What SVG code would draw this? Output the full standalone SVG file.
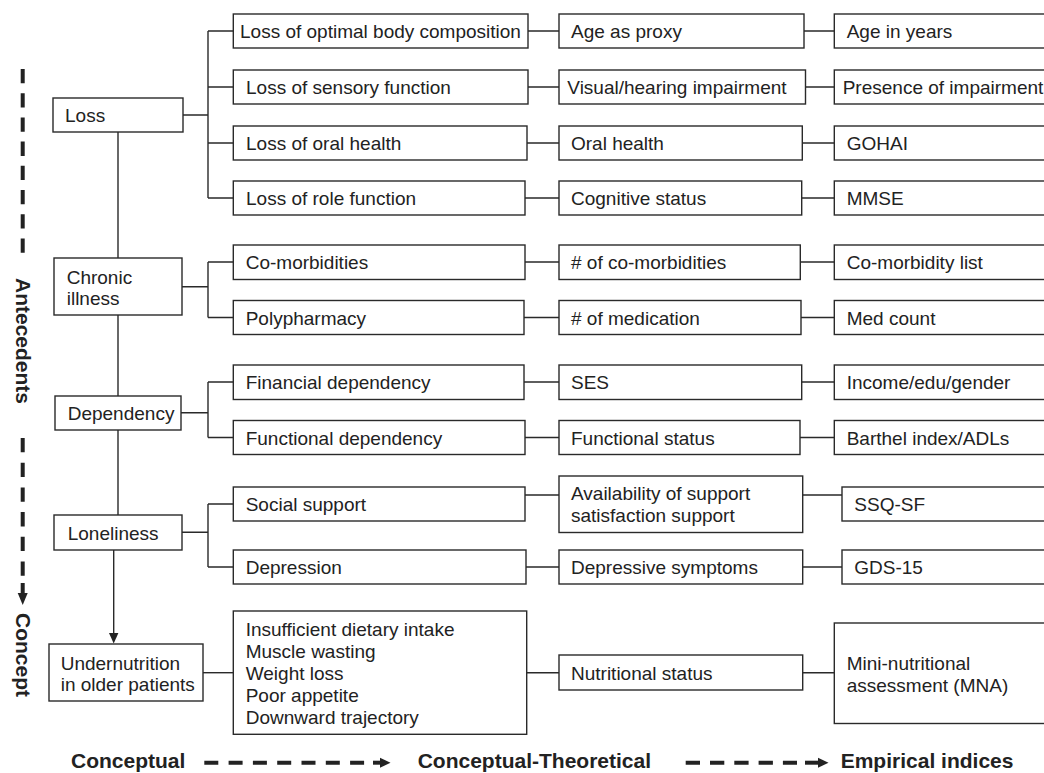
<svg xmlns="http://www.w3.org/2000/svg" width="1044" height="773" viewBox="0 0 1044 773">
<style>
.b{fill:#fff;stroke:#2a2a2a;stroke-width:1.4}
.t{font-family:"Liberation Sans",Arial,sans-serif;font-size:19px;fill:#222}
.bt{font-family:"Liberation Sans",Arial,sans-serif;font-size:21px;font-weight:bold;fill:#222}
.c{stroke:#2a2a2a;stroke-width:1.4;fill:none}
.d{stroke:#222;stroke-width:4;fill:none}
</style>
<defs>
<marker id="ah" markerWidth="10" markerHeight="10" refX="9" refY="5" orient="auto" markerUnits="userSpaceOnUse"><path d="M0,0 L10,5 L0,10 Z" fill="#222"/></marker>
</defs>
<rect width="1044" height="773" fill="#fff"/>

<g id="connectors">
<!-- trunk -->
<path class="c" d="M118,132 V258 M118,315 V396 M118,430 V515"/>
<path class="c" d="M113.7,550 V634"/>
<path d="M109,633 L118.4,633 L113.7,643.5 Z" fill="#222"/>
<!-- Loss bracket -->
<path class="c" d="M183,115 H208 M208,31 V198 M208,31 H233 M208,87 H233 M208,143 H233 M208,198 H233"/>
<!-- Chronic -->
<path class="c" d="M182,286.7 H208 M208,262 V317.5 M208,262 H233 M208,317.5 H233"/>
<!-- Dependency -->
<path class="c" d="M181,412.7 H208 M208,382 V437.5 M208,382 H233 M208,437.5 H233"/>
<!-- Loneliness -->
<path class="c" d="M182,532.3 H208 M208,504 V567 M208,504 H233 M208,567 H233"/>
<!-- Undernutrition -->
<path class="c" d="M203,672.7 H233"/>
<!-- col2 to col3 -->
<path class="c" d="M528,31 H559 M528,87 H559 M527,143 H559 M525,198 H559 M525,262 H559 M524,317.5 H559 M524,382 H559 M525,437.5 H559 M525,495 H559 M526,567 H559 M527,672.7 H559"/>
<!-- col3 to col4 -->
<path class="c" d="M804,31 H834 M805.5,87 H834 M802.3,143 H834 M801.7,198 H834 M800.3,262 H834 M801,317.5 H834 M801.7,382 H834 M800,437.5 H834 M802.7,495 H842 M802.7,567 H842 M802.7,672.7 H834"/>
</g>

<g id="axis-left">
<line class="d" x1="22.7" y1="69" x2="22.7" y2="252.7" stroke-dasharray="14.3 9.9"/>
<line class="d" x1="22.7" y1="438" x2="22.7" y2="576" stroke-dasharray="14.3 10.4"/>
<line class="d" x1="22.7" y1="583" x2="22.7" y2="595"/>
<path d="M17.7,593 L27.7,593 L22.7,605 Z" fill="#222"/>
<text class="bt" text-anchor="middle" transform="translate(15.5,341) rotate(90)">Antecedents</text>
<text class="bt" text-anchor="middle" transform="translate(15.5,655) rotate(90)">Concept</text>
</g>

<g id="axis-bottom">
<text class="bt" x="71" y="768">Conceptual</text>
<line class="d" x1="204.3" y1="762.7" x2="370" y2="762.7" stroke-dasharray="14 10.3"/>
<line class="d" x1="373" y1="762.7" x2="382" y2="762.7"/>
<path d="M380,757.7 L390.5,762.7 L380,767.7 Z" fill="#222"/>
<text class="bt" x="417.7" y="768">Conceptual-Theoretical</text>
<line class="d" x1="685.7" y1="762.7" x2="797" y2="762.7" stroke-dasharray="14.3 10"/>
<line class="d" x1="805" y1="762.7" x2="820" y2="762.7"/>
<path d="M818,757.7 L828.5,762.7 L818,767.7 Z" fill="#222"/>
<text class="bt" x="840.7" y="768">Empirical indices</text>
</g>

<g id="loss"><rect class="b" x="53" y="98" width="130" height="34"/><text class="t" x="65" y="122">Loss</text></g>
<g id="chronic"><rect class="b" x="54" y="258" width="128" height="57"/><text class="t" x="66.7" y="283.5">Chronic</text><text class="t" x="66.7" y="305">illness</text></g>
<g id="dependency"><rect class="b" x="55" y="396" width="126" height="34"/><text class="t" x="67.7" y="420">Dependency</text></g>
<g id="loneliness"><rect class="b" x="54" y="515" width="128" height="35"/><text class="t" x="67.7" y="540">Loneliness</text></g>
<g id="undernutrition"><rect class="b" x="49" y="644" width="154" height="57"/><text class="t" x="60.7" y="669.5">Undernutrition</text><text class="t" x="60.7" y="691">in older patients</text></g>

<g id="c2-body"><rect class="b" x="233.3" y="14" width="294.7" height="34"/><text class="t" x="240" y="38">Loss of optimal body composition</text></g>
<g id="c2-sensory"><rect class="b" x="233.3" y="70" width="294.7" height="34"/><text class="t" x="246" y="94">Loss of sensory function</text></g>
<g id="c2-oral"><rect class="b" x="233.3" y="126" width="293.7" height="34"/><text class="t" x="246" y="150">Loss of oral health</text></g>
<g id="c2-role"><rect class="b" x="233.3" y="181" width="291.7" height="34"/><text class="t" x="246" y="205">Loss of role function</text></g>
<g id="c2-comorb"><rect class="b" x="233.3" y="245" width="291.7" height="34.5"/><text class="t" x="245.7" y="269">Co-morbidities</text></g>
<g id="c2-poly"><rect class="b" x="233.3" y="300.5" width="290.7" height="34"/><text class="t" x="245.7" y="324.5">Polypharmacy</text></g>
<g id="c2-fin"><rect class="b" x="233.3" y="365" width="290.7" height="34.5"/><text class="t" x="245.7" y="389">Financial dependency</text></g>
<g id="c2-func"><rect class="b" x="233.3" y="420.5" width="291.7" height="34"/><text class="t" x="245.7" y="444.5">Functional dependency</text></g>
<g id="c2-social"><rect class="b" x="233.3" y="487" width="291.7" height="34"/><text class="t" x="245.7" y="511">Social support</text></g>
<g id="c2-depr"><rect class="b" x="233.3" y="550" width="292.7" height="34"/><text class="t" x="245.7" y="574">Depression</text></g>
<g id="c2-symptoms"><rect class="b" x="233.3" y="611" width="293.4" height="123.3"/>
<text class="t" x="245.7" y="635.5">Insufficient dietary intake</text>
<text class="t" x="245.7" y="657.7">Muscle wasting</text>
<text class="t" x="245.7" y="679.9">Weight loss</text>
<text class="t" x="245.7" y="702.1">Poor appetite</text>
<text class="t" x="245.7" y="724.3">Downward trajectory</text></g>

<g id="c3-age"><rect class="b" x="559" y="14" width="245" height="34"/><text class="t" x="571" y="38">Age as proxy</text></g>
<g id="c3-visual"><rect class="b" x="559" y="70" width="246.5" height="34"/><text class="t" x="567.3" y="94">Visual/hearing impairment</text></g>
<g id="c3-oral"><rect class="b" x="559" y="126" width="243.3" height="34"/><text class="t" x="571" y="150">Oral health</text></g>
<g id="c3-cog"><rect class="b" x="559" y="181" width="242.7" height="34"/><text class="t" x="571" y="205">Cognitive status</text></g>
<g id="c3-ncomorb"><rect class="b" x="559" y="245" width="241.3" height="34.5"/><text class="t" x="571" y="269">&#35; of co-morbidities</text></g>
<g id="c3-nmed"><rect class="b" x="559" y="300.5" width="242" height="34"/><text class="t" x="571" y="324.5">&#35; of medication</text></g>
<g id="c3-ses"><rect class="b" x="559" y="365" width="242.7" height="34.5"/><text class="t" x="571" y="389">SES</text></g>
<g id="c3-funcstatus"><rect class="b" x="559" y="420.5" width="241" height="34"/><text class="t" x="571" y="444.5">Functional status</text></g>
<g id="c3-avail"><rect class="b" x="559" y="476" width="243.7" height="56.5"/><text class="t" x="571" y="500">Availability of support</text><text class="t" x="571" y="522">satisfaction support</text></g>
<g id="c3-deprsym"><rect class="b" x="559" y="550" width="243.7" height="34"/><text class="t" x="571" y="574">Depressive symptoms</text></g>
<g id="c3-nutr"><rect class="b" x="559" y="655" width="243.7" height="35"/><text class="t" x="571" y="679.5">Nutritional status</text></g>

<g id="c4-ageyears"><rect class="b" x="834.3" y="14" width="220" height="34"/><text class="t" x="846.7" y="38">Age in years</text></g>
<g id="c4-presence"><rect class="b" x="834.3" y="70" width="220" height="34"/><text class="t" x="842.7" y="94">Presence of impairment</text></g>
<g id="c4-gohai"><rect class="b" x="834.3" y="126" width="220" height="34"/><text class="t" x="846.7" y="150">GOHAI</text></g>
<g id="c4-mmse"><rect class="b" x="834.3" y="181" width="220" height="34"/><text class="t" x="846.7" y="205">MMSE</text></g>
<g id="c4-comorblist"><rect class="b" x="834.3" y="245" width="220" height="34.5"/><text class="t" x="846.7" y="269">Co-morbidity list</text></g>
<g id="c4-medcount"><rect class="b" x="834.3" y="300.5" width="220" height="34"/><text class="t" x="846.7" y="324.5">Med count</text></g>
<g id="c4-income"><rect class="b" x="834.3" y="365" width="220" height="34.5"/><text class="t" x="846.7" y="389">Income/edu/gender</text></g>
<g id="c4-barthel"><rect class="b" x="834.3" y="420.5" width="220" height="34"/><text class="t" x="846.7" y="444.5">Barthel index/ADLs</text></g>
<g id="c4-ssq"><rect class="b" x="842" y="487" width="220" height="34"/><text class="t" x="854.3" y="511">SSQ-SF</text></g>
<g id="c4-gds"><rect class="b" x="842" y="550" width="220" height="34"/><text class="t" x="854.3" y="574">GDS-15</text></g>
<g id="c4-mna"><rect class="b" x="834.3" y="623" width="220" height="100.5"/><text class="t" x="846.7" y="669.5">Mini-nutritional</text><text class="t" x="846.7" y="692">assessment (MNA)</text></g>
</svg>
